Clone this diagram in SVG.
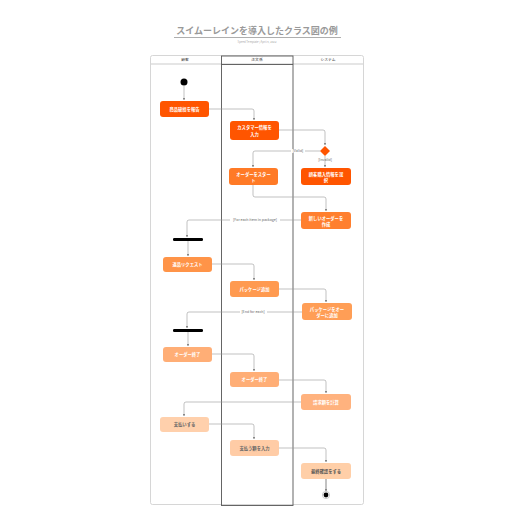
<svg xmlns="http://www.w3.org/2000/svg" width="516" height="516" viewBox="0 0 516 516">
<defs>
<marker id="ar" viewBox="0 0 6 6" refX="5" refY="3" markerWidth="4" markerHeight="4" orient="auto"><path d="M0,0 L6,3 L0,6 z" fill="#888"/></marker>
<style>
text{font-family:"Noto Sans CJK JP","Noto Sans",sans-serif}
.n text{font-size:4.3px;fill:#fff;text-anchor:middle;font-weight:bold}
.dk text{fill:#666}
.c path{fill:none;stroke:#999;stroke-width:0.6;marker-end:url(#ar)}
.lbl{font-size:3.6px;fill:#666;text-anchor:middle}
.hd{font-size:3.8px;fill:#444;text-anchor:middle}
</style>
</defs>
<rect width="516" height="516" fill="#fff"/>
<g id="title">
<text x="257" y="33.5" font-size="9" fill="#999" text-anchor="middle" font-weight="bold">スイムーレインを導入したクラス図の例</text>
<line x1="174" y1="37.5" x2="341" y2="37.5" stroke="#999" stroke-width="0.8"/>
<text x="257" y="42.5" font-size="2.8" fill="#aaa" text-anchor="middle">Speed Template | April 6, 2022</text>
</g>
<g id="lanes">
<rect x="150.5" y="55.5" width="213" height="449" rx="2" fill="#fff" stroke="#ccc" stroke-width="0.8"/>
<line x1="151" y1="64" x2="363" y2="64" stroke="#ddd" stroke-width="1.5"/>
<rect x="221.5" y="56" width="71.5" height="449.5" fill="none" stroke="#555" stroke-width="0.9"/>
<line x1="221.5" y1="64.5" x2="293" y2="64.5" stroke="#555" stroke-width="0.9"/>
<text class="hd" x="185" y="61.3">顧客</text>
<text class="hd" x="257" y="61.3">注文係</text>
<text class="hd" x="328" y="61.3">システム</text>
</g>
<g class="c" id="connectors">
<path d="M184,86 V100"/>
<path d="M209,109 H252 Q254,109 254,111 V120"/>
<path d="M279,130 H323 Q325,130 325,132 V145"/>
<path d="M320,151 H255 Q253,151 253,153 V167"/>
<path d="M325,156 V167"/>
<path d="M253,185 V195 Q253,197 255,197 H324 Q326,197 326,199 V211"/>
<path d="M301,220 H189 Q187,220 187,222 V237"/>
<path d="M188,241 V256"/>
<path d="M212,264 H252 Q254,264 254,266 V280"/>
<path d="M279,289 H324 Q326,289 326,291 V302"/>
<path d="M302,312 H189 Q187,312 187,314 V328"/>
<path d="M188,332 V346"/>
<path d="M212,354 H252 Q254,354 254,356 V371"/>
<path d="M279,380 H324 Q326,380 326,382 V393"/>
<path d="M301,402 H186 Q184,402 184,404 V416"/>
<path d="M209,424 H252 Q254,424 254,426 V439"/>
<path d="M279,448 H324 Q326,448 326,450 V462"/>
<path d="M326,479 V491" style="stroke:#333"/>
</g>
<g id="edge-labels">
<rect x="291" y="149" width="14" height="4" fill="#fff"/>
<text class="lbl" x="298" y="152.2">[Valid]</text>
<text class="lbl" x="325" y="160.5">[Invalid]</text>
<rect x="230" y="218" width="50" height="4" fill="#fff"/>
<text class="lbl" x="255" y="221.2">[For each item in package]</text>
<rect x="240" y="310" width="27" height="4" fill="#fff"/>
<text class="lbl" x="253" y="313.2">[End for each]</text>
</g>
<g id="start"><circle cx="184" cy="82" r="3.5" fill="#000"/></g>
<g id="n1" class="n"><rect x="160" y="101" width="49" height="16" rx="3" fill="#FF5500"/><text x="184.5" y="110.5">商品破損を報告</text></g>
<g id="n2" class="n"><rect x="230" y="121" width="49" height="19" rx="3" fill="#FF5500"/><text x="254.5" y="129">カスタマー情報を</text><text x="254.5" y="135.5">入力</text></g>
<g id="decision"><path d="M325,146 L330,151 L325,156 L320,151 Z" fill="#FF5500"/></g>
<g id="n3" class="n"><rect x="301" y="168" width="50" height="17" rx="3" fill="#FF5500"/><text x="326" y="175.5">顧客購入情報を選</text><text x="326" y="182">択</text></g>
<g id="n4" class="n"><rect x="229" y="168" width="49" height="17" rx="3" fill="#FF7A26"/><text x="253.5" y="175.5">オーダーをスター</text><text x="253.5" y="182">ト</text></g>
<g id="n5" class="n"><rect x="301" y="212" width="50" height="17" rx="3" fill="#FF7F2E"/><text x="326" y="219.5">新しいオーダーを</text><text x="326" y="226">作成</text></g>
<g id="fork"><rect x="173" y="238" width="30" height="3" rx="1.2" fill="#000"/></g>
<g id="n6" class="n"><rect x="163" y="257" width="49" height="15" rx="3" fill="#FF9448"/><text x="187.5" y="266">返品リクエスト</text></g>
<g id="n7" class="n"><rect x="230" y="281" width="49" height="16" rx="3" fill="#FF9A50"/><text x="254.5" y="290.5">パッケージ追加</text></g>
<g id="n8" class="n"><rect x="302" y="303" width="50" height="17" rx="3" fill="#FF9E56"/><text x="327" y="310.5">パッケージをオー</text><text x="327" y="317">ダーに追加</text></g>
<g id="join"><rect x="173" y="329" width="30" height="3" rx="1.2" fill="#000"/></g>
<g id="n9" class="n"><rect x="163" y="347" width="49" height="15" rx="3" fill="#FFAE76"/><text x="187.5" y="356">オーダー終了</text></g>
<g id="n10" class="n"><rect x="230" y="372" width="49" height="15" rx="3" fill="#FFAE76"/><text x="254.5" y="381">オーダー終了</text></g>
<g id="n11" class="n"><rect x="301" y="394" width="50" height="16" rx="3" fill="#FFB27E"/><text x="326" y="403.5">請求額を計算</text></g>
<g id="n12" class="n dk"><rect x="160" y="417" width="49" height="15" rx="3" fill="#FFD0AC"/><text x="184.5" y="426">支払いする</text></g>
<g id="n13" class="n dk"><rect x="230" y="440" width="49" height="16" rx="3" fill="#FFCCA6"/><text x="254.5" y="449.5">支払う額を入力</text></g>
<g id="n14" class="n dk"><rect x="301" y="463" width="50" height="16" rx="3" fill="#FFCFA8"/><text x="326" y="472.5" style="fill:#555">最終確認をする</text></g>
<g id="end"><circle cx="326" cy="495" r="3.6" fill="#fff" stroke="#bbb" stroke-width="0.8"/><circle cx="326" cy="495" r="2.4" fill="#000"/></g>
</svg>
